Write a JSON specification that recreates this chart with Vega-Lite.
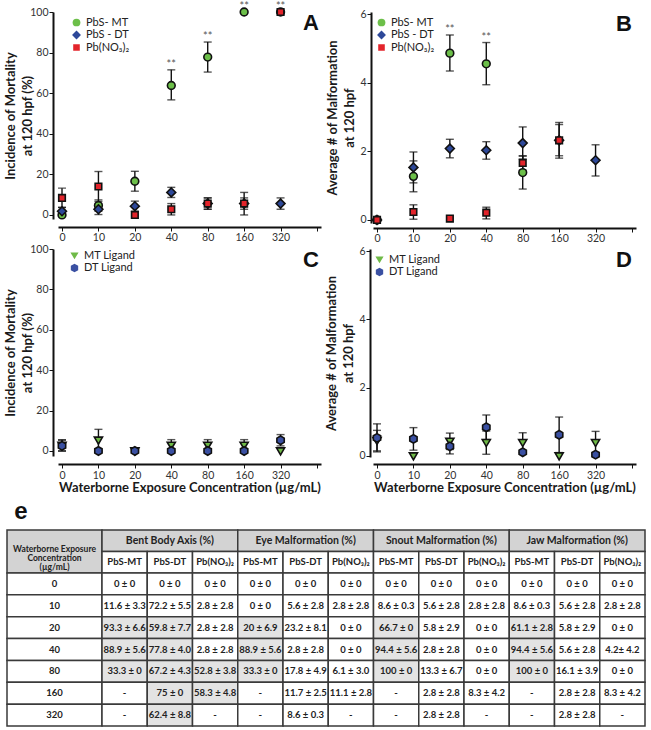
{
  "$schema": "https://vega.github.io/schema/vega-lite/v6.json",
  "background": "white",
  "padding": {"left": 4, "top": 1, "right": 2, "bottom": 2},
  "config": {
    "view": {"stroke": null},
    "font": "Lato",
    "axis": {"domainColor": "#111", "domainWidth": 2, "tickColor": "#111", "tickWidth": 1, "tickSize": 4, "labelColor": "#333", "labelFont": "Lato", "labelFontSize": 10.5, "labelPadding": 1, "titleFont": "Lato", "titleFontSize": 13, "titleFontWeight": "bold", "titleColor": "#1a1a1a", "grid": false},
    "legend": {"labelFont": "Lato", "labelFontSize": 11, "labelColor": "#222", "symbolStrokeColor": "#111", "symbolStrokeWidth": 1.6, "symbolSize": 60, "padding": 0, "rowPadding": 0.5, "clipHeight": 11, "labelOffset": 4}
  },
  "datasets": {
    "mortPb": [
      {"series": "PbS- MT", "conc": "0", "value": 0, "lo": null, "hi": null, "sig": null},
      {"series": "PbS- MT", "conc": "10", "value": 4.6, "lo": 1.8, "hi": 7.4, "sig": null},
      {"series": "PbS- MT", "conc": "20", "value": 16.6, "lo": 11.7, "hi": 21.5, "sig": null},
      {"series": "PbS- MT", "conc": "40", "value": 63.8, "lo": 56.7, "hi": 71.5, "sig": "**"},
      {"series": "PbS- MT", "conc": "80", "value": 77.8, "lo": 70.4, "hi": 85.2, "sig": "**"},
      {"series": "PbS- MT", "conc": "160", "value": 100, "lo": 100, "hi": 100, "sig": "**"},
      {"series": "PbS- MT", "conc": "320", "value": 100, "lo": 100, "hi": 100, "sig": null},
      {"series": "PbS - DT", "conc": "0", "value": 1.8, "lo": 0, "hi": 3.8, "sig": null},
      {"series": "PbS - DT", "conc": "10", "value": 2.8, "lo": 0.2, "hi": 5.4, "sig": null},
      {"series": "PbS - DT", "conc": "20", "value": 4.3, "lo": 1.8, "hi": 6.8, "sig": null},
      {"series": "PbS - DT", "conc": "40", "value": 11.1, "lo": 8.6, "hi": 13.6, "sig": null},
      {"series": "PbS - DT", "conc": "80", "value": 5.6, "lo": 2.8, "hi": 8.4, "sig": null},
      {"series": "PbS - DT", "conc": "160", "value": 5.6, "lo": 2.8, "hi": 8.4, "sig": null},
      {"series": "PbS - DT", "conc": "320", "value": 5.6, "lo": 2.8, "hi": 8.4, "sig": null},
      {"series": "Pb(NO₃)₂", "conc": "0", "value": 8.4, "lo": 3.6, "hi": 13.2, "sig": null},
      {"series": "Pb(NO₃)₂", "conc": "10", "value": 14, "lo": 6.6, "hi": 21.4, "sig": null},
      {"series": "Pb(NO₃)₂", "conc": "20", "value": 0, "lo": null, "hi": null, "sig": null},
      {"series": "Pb(NO₃)₂", "conc": "40", "value": 2.8, "lo": 0, "hi": 5.6, "sig": null},
      {"series": "Pb(NO₃)₂", "conc": "80", "value": 5.6, "lo": 2.8, "hi": 8.4, "sig": null},
      {"series": "Pb(NO₃)₂", "conc": "160", "value": 5.6, "lo": 0, "hi": 11.1, "sig": null},
      {"series": "Pb(NO₃)₂", "conc": "320", "value": 100, "lo": 100, "hi": 100, "sig": "**"}
    ],
    "malfPb": [
      {"series": "PbS- MT", "conc": "0", "value": 0, "lo": null, "hi": null, "sig": null},
      {"series": "PbS- MT", "conc": "10", "value": 1.27, "lo": 0.82, "hi": 1.72, "sig": null},
      {"series": "PbS- MT", "conc": "20", "value": 4.86, "lo": 4.34, "hi": 5.39, "sig": "**"},
      {"series": "PbS- MT", "conc": "40", "value": 4.55, "lo": 3.94, "hi": 5.17, "sig": "**"},
      {"series": "PbS- MT", "conc": "80", "value": 1.38, "lo": 0.9, "hi": 1.86, "sig": null},
      {"series": "PbS - DT", "conc": "0", "value": 0, "lo": null, "hi": null, "sig": null},
      {"series": "PbS - DT", "conc": "10", "value": 1.53, "lo": 1.08, "hi": 1.98, "sig": null},
      {"series": "PbS - DT", "conc": "20", "value": 2.08, "lo": 1.81, "hi": 2.35, "sig": null},
      {"series": "PbS - DT", "conc": "40", "value": 2.03, "lo": 1.77, "hi": 2.28, "sig": null},
      {"series": "PbS - DT", "conc": "80", "value": 2.24, "lo": 1.77, "hi": 2.71, "sig": null},
      {"series": "PbS - DT", "conc": "160", "value": 2.32, "lo": 1.87, "hi": 2.78, "sig": null},
      {"series": "PbS - DT", "conc": "320", "value": 1.74, "lo": 1.28, "hi": 2.19, "sig": null},
      {"series": "Pb(NO₃)₂", "conc": "0", "value": 0, "lo": null, "hi": null, "sig": null},
      {"series": "Pb(NO₃)₂", "conc": "10", "value": 0.23, "lo": 0.02, "hi": 0.44, "sig": null},
      {"series": "Pb(NO₃)₂", "conc": "20", "value": 0.04, "lo": null, "hi": null, "sig": null},
      {"series": "Pb(NO₃)₂", "conc": "40", "value": 0.21, "lo": 0.03, "hi": 0.37, "sig": null},
      {"series": "Pb(NO₃)₂", "conc": "80", "value": 1.66, "lo": 1.45, "hi": 1.87, "sig": null},
      {"series": "Pb(NO₃)₂", "conc": "160", "value": 2.32, "lo": 1.8, "hi": 2.84, "sig": null}
    ],
    "mortLig": [
      {"series": "MT Ligand", "conc": "0", "value": 2.8, "lo": 0, "hi": 5.6},
      {"series": "MT Ligand", "conc": "10", "value": 5.3, "lo": 0, "hi": 10.7},
      {"series": "MT Ligand", "conc": "20", "value": 0, "lo": null, "hi": null},
      {"series": "MT Ligand", "conc": "40", "value": 2.8, "lo": 0, "hi": 5.6},
      {"series": "MT Ligand", "conc": "80", "value": 2.8, "lo": 0, "hi": 5.6},
      {"series": "MT Ligand", "conc": "160", "value": 2.8, "lo": 0, "hi": 5.6},
      {"series": "MT Ligand", "conc": "320", "value": 0, "lo": null, "hi": null},
      {"series": "DT Ligand", "conc": "0", "value": 2.5, "lo": 0, "hi": 5.3},
      {"series": "DT Ligand", "conc": "10", "value": 0, "lo": null, "hi": null},
      {"series": "DT Ligand", "conc": "20", "value": 0, "lo": null, "hi": null},
      {"series": "DT Ligand", "conc": "40", "value": 0, "lo": null, "hi": null},
      {"series": "DT Ligand", "conc": "80", "value": 0, "lo": null, "hi": null},
      {"series": "DT Ligand", "conc": "160", "value": 0, "lo": null, "hi": null},
      {"series": "DT Ligand", "conc": "320", "value": 5.3, "lo": 2.5, "hi": 8.1}
    ],
    "malfLig": [
      {"series": "MT Ligand", "conc": "0", "value": 0.45, "lo": 0.15, "hi": 0.75},
      {"series": "MT Ligand", "conc": "10", "value": 0, "lo": null, "hi": null},
      {"series": "MT Ligand", "conc": "20", "value": 0.43, "lo": 0.19, "hi": 0.67},
      {"series": "MT Ligand", "conc": "40", "value": 0.39, "lo": 0.05, "hi": 0.73},
      {"series": "MT Ligand", "conc": "80", "value": 0.39, "lo": 0.1, "hi": 0.68},
      {"series": "MT Ligand", "conc": "160", "value": 0, "lo": null, "hi": null},
      {"series": "MT Ligand", "conc": "320", "value": 0.39, "lo": 0.06, "hi": 0.72},
      {"series": "DT Ligand", "conc": "0", "value": 0.53, "lo": 0.12, "hi": 0.94},
      {"series": "DT Ligand", "conc": "10", "value": 0.5, "lo": 0.17, "hi": 0.83},
      {"series": "DT Ligand", "conc": "20", "value": 0.28, "lo": 0.06, "hi": 0.5},
      {"series": "DT Ligand", "conc": "40", "value": 0.84, "lo": 0.48, "hi": 1.2},
      {"series": "DT Ligand", "conc": "80", "value": 0.11, "lo": null, "hi": null},
      {"series": "DT Ligand", "conc": "160", "value": 0.62, "lo": 0.1, "hi": 1.14},
      {"series": "DT Ligand", "conc": "320", "value": 0.04, "lo": null, "hi": null}
    ],
    "concHead": [{"part": "conc", "row": "head", "label": "Waterborne Exposure\nConcentration\n(µg/mL)"}],
    "concRows": [
      {"part": "conc", "conc": "0"}, {"part": "conc", "conc": "10"}, {"part": "conc", "conc": "20"}, {"part": "conc", "conc": "40"}, {"part": "conc", "conc": "80"}, {"part": "conc", "conc": "160"}, {"part": "conc", "conc": "320"}
    ],
    "groups": [
      {"measure": "Bent Body Axis (%)", "row": "group"}, {"measure": "Eye Malformation (%)", "row": "group"}, {"measure": "Snout Malformation (%)", "row": "group"}, {"measure": "Jaw Malformation (%)", "row": "group"}
    ],
    "subs": [
      {"measure": "Bent Body Axis (%)", "compound": "PbS-MT", "row": "sub"}, {"measure": "Bent Body Axis (%)", "compound": "PbS-DT", "row": "sub"}, {"measure": "Bent Body Axis (%)", "compound": "Pb(NO₃)₂", "row": "sub"},
      {"measure": "Eye Malformation (%)", "compound": "PbS-MT", "row": "sub"}, {"measure": "Eye Malformation (%)", "compound": "PbS-DT", "row": "sub"}, {"measure": "Eye Malformation (%)", "compound": "Pb(NO₃)₂", "row": "sub"},
      {"measure": "Snout Malformation (%)", "compound": "PbS-MT", "row": "sub"}, {"measure": "Snout Malformation (%)", "compound": "PbS-DT", "row": "sub"}, {"measure": "Snout Malformation (%)", "compound": "Pb(NO₃)₂", "row": "sub"},
      {"measure": "Jaw Malformation (%)", "compound": "PbS-MT", "row": "sub"}, {"measure": "Jaw Malformation (%)", "compound": "PbS-DT", "row": "sub"}, {"measure": "Jaw Malformation (%)", "compound": "Pb(NO₃)₂", "row": "sub"}
    ],
    "cells": [
      {"conc": "0", "measure": "Bent Body Axis (%)", "compound": "PbS-MT", "value": "0 ± 0", "significant": false},
      {"conc": "0", "measure": "Bent Body Axis (%)", "compound": "PbS-DT", "value": "0 ± 0", "significant": false},
      {"conc": "0", "measure": "Bent Body Axis (%)", "compound": "Pb(NO₃)₂", "value": "0 ± 0", "significant": false},
      {"conc": "0", "measure": "Eye Malformation (%)", "compound": "PbS-MT", "value": "0 ± 0", "significant": false},
      {"conc": "0", "measure": "Eye Malformation (%)", "compound": "PbS-DT", "value": "0 ± 0", "significant": false},
      {"conc": "0", "measure": "Eye Malformation (%)", "compound": "Pb(NO₃)₂", "value": "0 ± 0", "significant": false},
      {"conc": "0", "measure": "Snout Malformation (%)", "compound": "PbS-MT", "value": "0 ± 0", "significant": false},
      {"conc": "0", "measure": "Snout Malformation (%)", "compound": "PbS-DT", "value": "0 ± 0", "significant": false},
      {"conc": "0", "measure": "Snout Malformation (%)", "compound": "Pb(NO₃)₂", "value": "0 ± 0", "significant": false},
      {"conc": "0", "measure": "Jaw Malformation (%)", "compound": "PbS-MT", "value": "0 ± 0", "significant": false},
      {"conc": "0", "measure": "Jaw Malformation (%)", "compound": "PbS-DT", "value": "0 ± 0", "significant": false},
      {"conc": "0", "measure": "Jaw Malformation (%)", "compound": "Pb(NO₃)₂", "value": "0 ± 0", "significant": false},
      {"conc": "10", "measure": "Bent Body Axis (%)", "compound": "PbS-MT", "value": "11.6 ± 3.3", "significant": false},
      {"conc": "10", "measure": "Bent Body Axis (%)", "compound": "PbS-DT", "value": "72.2 ± 5.5", "significant": false},
      {"conc": "10", "measure": "Bent Body Axis (%)", "compound": "Pb(NO₃)₂", "value": "2.8 ± 2.8", "significant": false},
      {"conc": "10", "measure": "Eye Malformation (%)", "compound": "PbS-MT", "value": "0 ± 0", "significant": false},
      {"conc": "10", "measure": "Eye Malformation (%)", "compound": "PbS-DT", "value": "5.6 ± 2.8", "significant": false},
      {"conc": "10", "measure": "Eye Malformation (%)", "compound": "Pb(NO₃)₂", "value": "2.8 ± 2.8", "significant": false},
      {"conc": "10", "measure": "Snout Malformation (%)", "compound": "PbS-MT", "value": "8.6 ± 0.3", "significant": false},
      {"conc": "10", "measure": "Snout Malformation (%)", "compound": "PbS-DT", "value": "5.6 ± 2.8", "significant": false},
      {"conc": "10", "measure": "Snout Malformation (%)", "compound": "Pb(NO₃)₂", "value": "2.8 ± 2.8", "significant": false},
      {"conc": "10", "measure": "Jaw Malformation (%)", "compound": "PbS-MT", "value": "8.6 ± 0.3", "significant": false},
      {"conc": "10", "measure": "Jaw Malformation (%)", "compound": "PbS-DT", "value": "5.6 ± 2.8", "significant": false},
      {"conc": "10", "measure": "Jaw Malformation (%)", "compound": "Pb(NO₃)₂", "value": "2.8 ± 2.8", "significant": false},
      {"conc": "20", "measure": "Bent Body Axis (%)", "compound": "PbS-MT", "value": "93.3 ± 6.6", "significant": true},
      {"conc": "20", "measure": "Bent Body Axis (%)", "compound": "PbS-DT", "value": "59.8 ± 7.7", "significant": true},
      {"conc": "20", "measure": "Bent Body Axis (%)", "compound": "Pb(NO₃)₂", "value": "2.8 ± 2.8", "significant": false},
      {"conc": "20", "measure": "Eye Malformation (%)", "compound": "PbS-MT", "value": "20 ± 6.9", "significant": true},
      {"conc": "20", "measure": "Eye Malformation (%)", "compound": "PbS-DT", "value": "23.2 ± 8.1", "significant": false},
      {"conc": "20", "measure": "Eye Malformation (%)", "compound": "Pb(NO₃)₂", "value": "0 ± 0", "significant": false},
      {"conc": "20", "measure": "Snout Malformation (%)", "compound": "PbS-MT", "value": "66.7 ± 0", "significant": true},
      {"conc": "20", "measure": "Snout Malformation (%)", "compound": "PbS-DT", "value": "5.8 ± 2.9", "significant": false},
      {"conc": "20", "measure": "Snout Malformation (%)", "compound": "Pb(NO₃)₂", "value": "0 ± 0", "significant": false},
      {"conc": "20", "measure": "Jaw Malformation (%)", "compound": "PbS-MT", "value": "61.1 ± 2.8", "significant": true},
      {"conc": "20", "measure": "Jaw Malformation (%)", "compound": "PbS-DT", "value": "5.8 ± 2.9", "significant": false},
      {"conc": "20", "measure": "Jaw Malformation (%)", "compound": "Pb(NO₃)₂", "value": "0 ± 0", "significant": false},
      {"conc": "40", "measure": "Bent Body Axis (%)", "compound": "PbS-MT", "value": "88.9 ± 5.6", "significant": true},
      {"conc": "40", "measure": "Bent Body Axis (%)", "compound": "PbS-DT", "value": "77.8 ± 4.0", "significant": true},
      {"conc": "40", "measure": "Bent Body Axis (%)", "compound": "Pb(NO₃)₂", "value": "2.8 ± 2.8", "significant": false},
      {"conc": "40", "measure": "Eye Malformation (%)", "compound": "PbS-MT", "value": "88.9 ± 5.6", "significant": true},
      {"conc": "40", "measure": "Eye Malformation (%)", "compound": "PbS-DT", "value": "2.8 ± 2.8", "significant": false},
      {"conc": "40", "measure": "Eye Malformation (%)", "compound": "Pb(NO₃)₂", "value": "0 ± 0", "significant": false},
      {"conc": "40", "measure": "Snout Malformation (%)", "compound": "PbS-MT", "value": "94.4 ± 5.6", "significant": true},
      {"conc": "40", "measure": "Snout Malformation (%)", "compound": "PbS-DT", "value": "2.8 ± 2.8", "significant": false},
      {"conc": "40", "measure": "Snout Malformation (%)", "compound": "Pb(NO₃)₂", "value": "0 ± 0", "significant": false},
      {"conc": "40", "measure": "Jaw Malformation (%)", "compound": "PbS-MT", "value": "94.4 ± 5.6", "significant": true},
      {"conc": "40", "measure": "Jaw Malformation (%)", "compound": "PbS-DT", "value": "5.6 ± 2.8", "significant": false},
      {"conc": "40", "measure": "Jaw Malformation (%)", "compound": "Pb(NO₃)₂", "value": "4.2± 4.2", "significant": false},
      {"conc": "80", "measure": "Bent Body Axis (%)", "compound": "PbS-MT", "value": "33.3 ± 0", "significant": true},
      {"conc": "80", "measure": "Bent Body Axis (%)", "compound": "PbS-DT", "value": "67.2 ± 4.3", "significant": true},
      {"conc": "80", "measure": "Bent Body Axis (%)", "compound": "Pb(NO₃)₂", "value": "52.8 ± 3.8", "significant": true},
      {"conc": "80", "measure": "Eye Malformation (%)", "compound": "PbS-MT", "value": "33.3 ± 0", "significant": true},
      {"conc": "80", "measure": "Eye Malformation (%)", "compound": "PbS-DT", "value": "17.8 ± 4.9", "significant": false},
      {"conc": "80", "measure": "Eye Malformation (%)", "compound": "Pb(NO₃)₂", "value": "6.1 ± 3.0", "significant": false},
      {"conc": "80", "measure": "Snout Malformation (%)", "compound": "PbS-MT", "value": "100 ± 0", "significant": true},
      {"conc": "80", "measure": "Snout Malformation (%)", "compound": "PbS-DT", "value": "13.3 ± 6.7", "significant": false},
      {"conc": "80", "measure": "Snout Malformation (%)", "compound": "Pb(NO₃)₂", "value": "0 ± 0", "significant": false},
      {"conc": "80", "measure": "Jaw Malformation (%)", "compound": "PbS-MT", "value": "100 ± 0", "significant": true},
      {"conc": "80", "measure": "Jaw Malformation (%)", "compound": "PbS-DT", "value": "16.1 ± 3.9", "significant": false},
      {"conc": "80", "measure": "Jaw Malformation (%)", "compound": "Pb(NO₃)₂", "value": "0 ± 0", "significant": false},
      {"conc": "160", "measure": "Bent Body Axis (%)", "compound": "PbS-MT", "value": "-", "significant": false},
      {"conc": "160", "measure": "Bent Body Axis (%)", "compound": "PbS-DT", "value": "75 ± 0", "significant": true},
      {"conc": "160", "measure": "Bent Body Axis (%)", "compound": "Pb(NO₃)₂", "value": "58.3 ± 4.8", "significant": true},
      {"conc": "160", "measure": "Eye Malformation (%)", "compound": "PbS-MT", "value": "-", "significant": false},
      {"conc": "160", "measure": "Eye Malformation (%)", "compound": "PbS-DT", "value": "11.7 ± 2.5", "significant": false},
      {"conc": "160", "measure": "Eye Malformation (%)", "compound": "Pb(NO₃)₂", "value": "11.1 ± 2.8", "significant": false},
      {"conc": "160", "measure": "Snout Malformation (%)", "compound": "PbS-MT", "value": "-", "significant": false},
      {"conc": "160", "measure": "Snout Malformation (%)", "compound": "PbS-DT", "value": "2.8 ± 2.8", "significant": false},
      {"conc": "160", "measure": "Snout Malformation (%)", "compound": "Pb(NO₃)₂", "value": "8.3 ± 4.2", "significant": false},
      {"conc": "160", "measure": "Jaw Malformation (%)", "compound": "PbS-MT", "value": "-", "significant": false},
      {"conc": "160", "measure": "Jaw Malformation (%)", "compound": "PbS-DT", "value": "2.8 ± 2.8", "significant": false},
      {"conc": "160", "measure": "Jaw Malformation (%)", "compound": "Pb(NO₃)₂", "value": "8.3 ± 4.2", "significant": false},
      {"conc": "320", "measure": "Bent Body Axis (%)", "compound": "PbS-MT", "value": "-", "significant": false},
      {"conc": "320", "measure": "Bent Body Axis (%)", "compound": "PbS-DT", "value": "62.4 ± 8.8", "significant": true},
      {"conc": "320", "measure": "Bent Body Axis (%)", "compound": "Pb(NO₃)₂", "value": "-", "significant": false},
      {"conc": "320", "measure": "Eye Malformation (%)", "compound": "PbS-MT", "value": "-", "significant": false},
      {"conc": "320", "measure": "Eye Malformation (%)", "compound": "PbS-DT", "value": "8.6 ± 0.3", "significant": false},
      {"conc": "320", "measure": "Eye Malformation (%)", "compound": "Pb(NO₃)₂", "value": "-", "significant": false},
      {"conc": "320", "measure": "Snout Malformation (%)", "compound": "PbS-MT", "value": "-", "significant": false},
      {"conc": "320", "measure": "Snout Malformation (%)", "compound": "PbS-DT", "value": "2.8 ± 2.8", "significant": false},
      {"conc": "320", "measure": "Snout Malformation (%)", "compound": "Pb(NO₃)₂", "value": "-", "significant": false},
      {"conc": "320", "measure": "Jaw Malformation (%)", "compound": "PbS-MT", "value": "-", "significant": false},
      {"conc": "320", "measure": "Jaw Malformation (%)", "compound": "PbS-DT", "value": "2.8 ± 2.8", "significant": false},
      {"conc": "320", "measure": "Jaw Malformation (%)", "compound": "Pb(NO₃)₂", "value": "-", "significant": false}
    ]
  },
  "vconcat": [
    {
      "vconcat": [
        {
          "hconcat": [
            {
              "width": 263, "height": 207,
              "data": {"name": "mortPb"},
              "encoding": {"x": {"field": "conc", "type": "ordinal", "scale": {"type": "point", "domain": ["0", "10", "20", "40", "80", "160", "320", " "], "padding": 0.11}, "axis": {"title": null, "labelAngle": 0, "offset": 8}}},
              "layer": [
                {"transform": [{"filter": "datum.lo != null && datum.hi > datum.lo"}], "mark": {"type": "rule", "color": "#111", "strokeWidth": 1.4},
                 "encoding": {"y": {"field": "lo", "type": "quantitative", "scale": {"domain": [-2, 100], "nice": false, "zero": false}, "axis": {"title": ["Incidence of Mortality", "at 120 hpf (%)"], "values": [0, 20, 40, 60, 80, 100], "offset": 5, "titlePadding": -5, "titleLineHeight": 17}}, "y2": {"field": "hi"}}},
                {"transform": [{"filter": "datum.lo != null && datum.hi > datum.lo"}], "mark": {"type": "tick", "orient": "horizontal", "color": "#111", "thickness": 1.4, "size": 8}, "encoding": {"y": {"field": "lo", "type": "quantitative"}}},
                {"transform": [{"filter": "datum.lo != null && datum.hi > datum.lo"}], "mark": {"type": "tick", "orient": "horizontal", "color": "#111", "thickness": 1.4, "size": 8}, "encoding": {"y": {"field": "hi", "type": "quantitative"}}},
                {"mark": {"type": "point", "filled": true, "opacity": 1, "stroke": "#111", "strokeWidth": 1.6, "size": 60},
                 "encoding": {"y": {"field": "value", "type": "quantitative"},
                   "fill": {"field": "series", "type": "nominal", "scale": {"domain": ["PbS- MT", "PbS - DT", "Pb(NO₃)₂"], "range": ["#6cbf49", "#2d4899", "#e3242b"]}, "legend": {"title": null, "orient": "none", "legendX": 13, "legendY": 5}},
                   "shape": {"field": "series", "type": "nominal", "scale": {"domain": ["PbS- MT", "PbS - DT", "Pb(NO₃)₂"], "range": ["circle", "M0,-1.15L1.15,0L0,1.15L-1.15,0Z", "M-0.85,-0.85H0.85V0.85H-0.85Z"]}, "legend": {"title": null, "orient": "none", "legendX": 13, "legendY": 5}}}},
                {"transform": [{"filter": "datum.sig != null"}], "mark": {"type": "text", "dy": -5, "fontSize": 11, "color": "#555"}, "encoding": {"y": {"field": "hi", "type": "quantitative"}, "text": {"field": "sig"}}},
                {"data": {"values": [{"label": "A"}]}, "mark": {"type": "text", "align": "right", "dx": 2, "fontSize": 22, "fontWeight": "bold", "font": "Liberation Sans", "color": "#111"}, "encoding": {"x": {"datum": " "}, "y": {"datum": 94.5}, "text": {"field": "label"}}}
              ]
            },
            {
              "width": 263, "height": 211,
              "data": {"name": "malfPb"},
              "encoding": {"x": {"field": "conc", "type": "ordinal", "scale": {"type": "point", "domain": ["0", "10", "20", "40", "80", "160", "320", " "], "padding": 0.11}, "axis": {"title": null, "labelAngle": 0, "offset": 5}}},
              "layer": [
                {"transform": [{"filter": "datum.lo != null && datum.hi > datum.lo"}], "mark": {"type": "rule", "color": "#111", "strokeWidth": 1.4},
                 "encoding": {"y": {"field": "lo", "type": "quantitative", "scale": {"domain": [-0.09, 6.06], "nice": false, "zero": false}, "axis": {"title": ["Average # of Malformation", "at 120 hpf"], "values": [0, 1, 2, 3, 4, 5, 6], "offset": 2, "titlePadding": 3, "titleLineHeight": 17}}, "y2": {"field": "hi"}}},
                {"transform": [{"filter": "datum.lo != null && datum.hi > datum.lo"}], "mark": {"type": "tick", "orient": "horizontal", "color": "#111", "thickness": 1.4, "size": 8}, "encoding": {"y": {"field": "lo", "type": "quantitative"}}},
                {"transform": [{"filter": "datum.lo != null && datum.hi > datum.lo"}], "mark": {"type": "tick", "orient": "horizontal", "color": "#111", "thickness": 1.4, "size": 8}, "encoding": {"y": {"field": "hi", "type": "quantitative"}}},
                {"mark": {"type": "point", "filled": true, "opacity": 1, "stroke": "#111", "strokeWidth": 1.6, "size": 60},
                 "encoding": {"y": {"field": "value", "type": "quantitative"},
                   "fill": {"field": "series", "type": "nominal", "scale": {"domain": ["PbS- MT", "PbS - DT", "Pb(NO₃)₂"], "range": ["#6cbf49", "#2d4899", "#e3242b"]}, "legend": {"title": null, "orient": "none", "legendX": 3, "legendY": 5}},
                   "shape": {"field": "series", "type": "nominal", "scale": {"domain": ["PbS- MT", "PbS - DT", "Pb(NO₃)₂"], "range": ["circle", "M0,-1.15L1.15,0L0,1.15L-1.15,0Z", "M-0.85,-0.85H0.85V0.85H-0.85Z"]}, "legend": {"title": null, "orient": "none", "legendX": 3, "legendY": 5}}}},
                {"transform": [{"filter": "datum.sig != null"}], "mark": {"type": "text", "dy": -5, "fontSize": 11, "color": "#555"}, "encoding": {"y": {"field": "hi", "type": "quantitative"}, "text": {"field": "sig"}}},
                {"data": {"values": [{"label": "B"}]}, "mark": {"type": "text", "align": "right", "dx": 0, "fontSize": 22, "fontWeight": "bold", "font": "Liberation Sans", "color": "#111"}, "encoding": {"x": {"datum": " "}, "y": {"datum": 5.72}, "text": {"field": "label"}}}
              ]
            }
          ],
          "spacing": 52,
          "bounds": "flush",
          "resolve": {"scale": {"fill": "independent", "shape": "independent"}, "legend": {"fill": "independent", "shape": "independent"}}
        },
        {
          "hconcat": [
            {
              "width": 263, "height": 207,
              "data": {"name": "mortLig"},
              "encoding": {"x": {"field": "conc", "type": "ordinal", "scale": {"type": "point", "domain": ["0", "10", "20", "40", "80", "160", "320", " "], "padding": 0.11}, "axis": {"title": "Waterborne Exposure Concentration (µg/mL)", "labelAngle": 0, "offset": 8, "labelPadding": 2, "titlePadding": 1}}},
              "layer": [
                {"transform": [{"filter": "datum.lo != null && datum.hi > datum.lo"}], "mark": {"type": "rule", "color": "#111", "strokeWidth": 1.4},
                 "encoding": {"y": {"field": "lo", "type": "quantitative", "scale": {"domain": [-2.5, 100], "nice": false, "zero": false}, "axis": {"title": ["Incidence of Mortality", "at 120 hpf (%)"], "values": [0, 20, 40, 60, 80, 100], "offset": 5, "titlePadding": -5, "titleLineHeight": 17}}, "y2": {"field": "hi"}}},
                {"transform": [{"filter": "datum.lo != null && datum.hi > datum.lo"}], "mark": {"type": "tick", "orient": "horizontal", "color": "#111", "thickness": 1.4, "size": 8}, "encoding": {"y": {"field": "lo", "type": "quantitative"}}},
                {"transform": [{"filter": "datum.lo != null && datum.hi > datum.lo"}], "mark": {"type": "tick", "orient": "horizontal", "color": "#111", "thickness": 1.4, "size": 8}, "encoding": {"y": {"field": "hi", "type": "quantitative"}}},
                {"mark": {"type": "point", "filled": true, "opacity": 1, "stroke": "#111", "strokeWidth": 1.6, "size": 60},
                 "encoding": {"y": {"field": "value", "type": "quantitative"},
                   "fill": {"field": "series", "type": "nominal", "scale": {"domain": ["MT Ligand", "DT Ligand"], "range": ["#6fba47", "#3a50a2"]}, "legend": {"title": null, "orient": "none", "legendX": 11, "legendY": 1}},
                   "shape": {"field": "series", "type": "nominal", "scale": {"domain": ["MT Ligand", "DT Ligand"], "range": ["M-1.05,-0.8L1.05,-0.8L0,1Z", "M0,-1.1L0.95,-0.55L0.95,0.55L0,1.1L-0.95,0.55L-0.95,-0.55Z"]}, "legend": {"title": null, "orient": "none", "legendX": 11, "legendY": 1}}}},
                {"data": {"values": [{"label": "C"}]}, "mark": {"type": "text", "align": "right", "dx": 2, "fontSize": 22, "fontWeight": "bold", "font": "Liberation Sans", "color": "#111"}, "encoding": {"x": {"datum": " "}, "y": {"datum": 94.5}, "text": {"field": "label"}}}
              ]
            },
            {
              "width": 263, "height": 208,
              "data": {"name": "malfLig"},
              "encoding": {"x": {"field": "conc", "type": "ordinal", "scale": {"type": "point", "domain": ["0", "10", "20", "40", "80", "160", "320", " "], "padding": 0.11}, "axis": {"title": "Waterborne Exposure Concentration (µg/mL)", "labelAngle": 0, "offset": 7, "labelPadding": 2, "titlePadding": 1}}},
              "layer": [
                {"transform": [{"filter": "datum.lo != null && datum.hi > datum.lo"}], "mark": {"type": "rule", "color": "#111", "strokeWidth": 1.4},
                 "encoding": {"y": {"field": "lo", "type": "quantitative", "scale": {"domain": [-0.03, 6.06], "nice": false, "zero": false}, "axis": {"title": ["Average # of Malformation", "at 120 hpf"], "values": [0, 1, 2, 3, 4, 5, 6], "offset": 3, "titlePadding": 3, "titleLineHeight": 17}}, "y2": {"field": "hi"}}},
                {"transform": [{"filter": "datum.lo != null && datum.hi > datum.lo"}], "mark": {"type": "tick", "orient": "horizontal", "color": "#111", "thickness": 1.4, "size": 8}, "encoding": {"y": {"field": "lo", "type": "quantitative"}}},
                {"transform": [{"filter": "datum.lo != null && datum.hi > datum.lo"}], "mark": {"type": "tick", "orient": "horizontal", "color": "#111", "thickness": 1.4, "size": 8}, "encoding": {"y": {"field": "hi", "type": "quantitative"}}},
                {"mark": {"type": "point", "filled": true, "opacity": 1, "stroke": "#111", "strokeWidth": 1.6, "size": 60},
                 "encoding": {"y": {"field": "value", "type": "quantitative"},
                   "fill": {"field": "series", "type": "nominal", "scale": {"domain": ["MT Ligand", "DT Ligand"], "range": ["#6fba47", "#3a50a2"]}, "legend": {"title": null, "orient": "none", "legendX": 1, "legendY": 5}},
                   "shape": {"field": "series", "type": "nominal", "scale": {"domain": ["MT Ligand", "DT Ligand"], "range": ["M-1.05,-0.8L1.05,-0.8L0,1Z", "M0,-1.1L0.95,-0.55L0.95,0.55L0,1.1L-0.95,0.55L-0.95,-0.55Z"]}, "legend": {"title": null, "orient": "none", "legendX": 1, "legendY": 5}}}},
                {"data": {"values": [{"label": "D"}]}, "mark": {"type": "text", "align": "right", "dx": 0, "fontSize": 22, "fontWeight": "bold", "font": "Liberation Sans", "color": "#111"}, "encoding": {"x": {"datum": " "}, "y": {"datum": 5.75}, "text": {"field": "label"}}}
              ]
            }
          ],
          "spacing": 52,
          "bounds": "flush",
          "resolve": {"scale": {"fill": "independent", "shape": "independent"}, "legend": {"fill": "independent", "shape": "independent"}}
        }
      ],
      "spacing": 0,
      "resolve": {"scale": {"fill": "independent", "shape": "independent"}, "legend": {"fill": "independent", "shape": "independent"}}
    },
    {
      "width": 638, "height": 196,
      "title": {"text": "e", "anchor": "start", "fontSize": 24, "fontWeight": "bold", "font": "Liberation Sans", "color": "#111", "offset": 5, "dx": 8},
      "resolve": {"scale": {"x": "independent", "y": "independent", "xOffset": "independent"}},
      "layer": [
        {
          "data": {"name": "concHead"},
          "encoding": {
            "x": {"field": "part", "type": "nominal", "scale": {"type": "band", "domain": ["conc"], "range": [-51, 44], "paddingInner": 0, "paddingOuter": 0}, "axis": null},
            "y": {"field": "row", "type": "nominal", "scale": {"type": "band", "domain": ["head"], "range": [0, 43], "paddingInner": 0, "paddingOuter": 0}, "axis": null}
          },
          "layer": [
            {"mark": {"type": "rect", "fill": "#d3d3d3", "stroke": "#3a3a3a", "strokeWidth": 1.5}},
            {"mark": {"type": "text", "lineBreak": "\n", "lineHeight": 9, "fontSize": 8.5, "fontWeight": "bold", "font": "Lato", "color": "#222", "dy": -3}, "encoding": {"text": {"field": "label"}}}
          ]
        },
        {
          "data": {"name": "concRows"},
          "encoding": {
            "x": {"field": "part", "type": "nominal", "scale": {"type": "band", "domain": ["conc"], "range": [-51, 44], "paddingInner": 0, "paddingOuter": 0}, "axis": null},
            "y": {"field": "conc", "type": "nominal", "scale": {"type": "band", "domain": ["0", "10", "20", "40", "80", "160", "320"], "range": [43, 196], "paddingInner": 0, "paddingOuter": 0}, "axis": null}
          },
          "layer": [
            {"mark": {"type": "rect", "fill": "white", "stroke": "#3a3a3a", "strokeWidth": 1.5}},
            {"mark": {"type": "text", "fontSize": 9.5, "fontWeight": "bold", "font": "Lato", "color": "#222"}, "encoding": {"text": {"field": "conc"}}}
          ]
        },
        {
          "data": {"name": "groups"},
          "encoding": {
            "x": {"field": "measure", "type": "nominal", "scale": {"type": "band", "domain": ["Bent Body Axis (%)", "Eye Malformation (%)", "Snout Malformation (%)", "Jaw Malformation (%)"], "range": [44, 587], "paddingInner": 0, "paddingOuter": 0}, "axis": null},
            "y": {"field": "row", "type": "nominal", "scale": {"type": "band", "domain": ["group"], "range": [0, 21.5], "paddingInner": 0, "paddingOuter": 0}, "axis": null}
          },
          "layer": [
            {"mark": {"type": "rect", "fill": "#d3d3d3", "stroke": "#3a3a3a", "strokeWidth": 1.5}},
            {"mark": {"type": "text", "fontSize": 10.5, "fontWeight": "bold", "font": "Lato", "color": "#222"}, "encoding": {"text": {"field": "measure"}}}
          ]
        },
        {
          "data": {"name": "subs"},
          "encoding": {
            "x": {"field": "measure", "type": "nominal", "scale": {"type": "band", "domain": ["Bent Body Axis (%)", "Eye Malformation (%)", "Snout Malformation (%)", "Jaw Malformation (%)"], "range": [44, 587], "paddingInner": 0, "paddingOuter": 0}, "axis": null},
            "xOffset": {"field": "compound", "type": "nominal", "scale": {"domain": ["PbS-MT", "PbS-DT", "Pb(NO₃)₂"], "paddingInner": 0, "paddingOuter": 0}},
            "y": {"field": "row", "type": "nominal", "scale": {"type": "band", "domain": ["sub"], "range": [21.5, 43], "paddingInner": 0, "paddingOuter": 0}, "axis": null}
          },
          "layer": [
            {"mark": {"type": "rect", "fill": "white", "stroke": "#3a3a3a", "strokeWidth": 1.5}},
            {"mark": {"type": "text", "fontSize": 9.5, "fontWeight": "bold", "font": "Lato", "color": "#222"}, "encoding": {"text": {"field": "compound"}}}
          ]
        },
        {
          "data": {"name": "cells"},
          "encoding": {
            "x": {"field": "measure", "type": "nominal", "scale": {"type": "band", "domain": ["Bent Body Axis (%)", "Eye Malformation (%)", "Snout Malformation (%)", "Jaw Malformation (%)"], "range": [44, 587], "paddingInner": 0, "paddingOuter": 0}, "axis": null},
            "xOffset": {"field": "compound", "type": "nominal", "scale": {"domain": ["PbS-MT", "PbS-DT", "Pb(NO₃)₂"], "paddingInner": 0, "paddingOuter": 0}},
            "y": {"field": "conc", "type": "nominal", "scale": {"type": "band", "domain": ["0", "10", "20", "40", "80", "160", "320"], "range": [43, 196], "paddingInner": 0, "paddingOuter": 0}, "axis": null}
          },
          "layer": [
            {"mark": {"type": "rect", "stroke": "#3a3a3a", "strokeWidth": 1.5}, "encoding": {"fill": {"condition": {"test": "datum.significant", "value": "#e3e3e3"}, "value": "white"}}},
            {"mark": {"type": "text", "fontSize": 9.5, "fontWeight": "bold", "font": "Lato", "color": "#222"}, "encoding": {"text": {"field": "value"}}}
          ]
        }
      ]
    }
  ],
  "spacing": 5,
  "resolve": {"scale": {"fill": "independent", "shape": "independent"}, "legend": {"fill": "independent", "shape": "independent"}}
}
